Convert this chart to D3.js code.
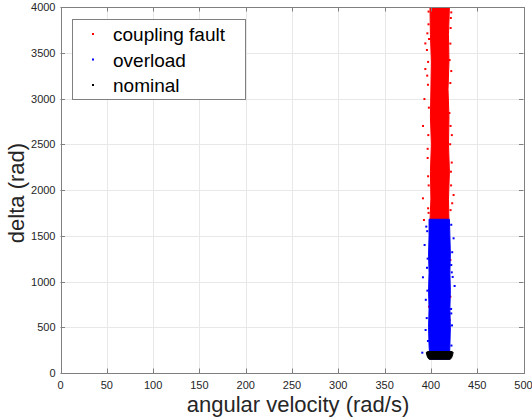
<!DOCTYPE html>
<html>
<head>
<meta charset="utf-8">
<script src="https://cdn.jsdelivr.net/npm/d3@7"></script>
<style>
  body { margin: 0; background: #fff; }
  text { font-family: "Liberation Sans", Arial, Helvetica, sans-serif; }
</style>
</head>
<body>
<svg id="chart"></svg>
<script>
// scatter of delta vs angular velocity, three operating classes
const width = 532;
const height = 419;
const margin = { top: 7, right: 8.5, bottom: 46, left: 60.5 };

const xTicks = [0, 50, 100, 150, 200, 250, 300, 350, 400, 450, 500];
const yTicks = [0, 500, 1000, 1500, 2000, 2500, 3000, 3500, 4000];
const classNames = ["coupling fault", "overload", "nominal"];
const classColors = ["#ff0000", "#0000ff", "#000000"];

// dense cores: delta level with left/right edge of the point cloud
const faultDelta = [1660, 1900, 2200, 2500, 2800, 3100, 3400, 3700, 4000];
const faultLeft = [399, 400, 399.5, 400.5, 399.5, 400, 400.5, 399.5, 399];
const faultRight = [419.5, 419, 420, 419, 419.5, 418.5, 419.5, 419, 420];

const overloadDelta = [150, 300, 500, 700, 900, 1100, 1300, 1500, 1680];
const overloadLeft = [399, 398, 397.5, 398, 397.5, 398, 397.5, 398, 398];
const overloadRight = [420, 420.5, 421, 420.5, 421, 420.5, 421, 420.5, 420];

const nominalDelta = [150, 170, 200, 225, 235];
const nominalLeft = [398, 396.5, 395.5, 395, 396.5];
const nominalRight = [421, 422.5, 423.5, 424, 423];

// stray points outside the cores
const faultStrayX = [397.4, 396.2, 394.0, 395.7, 394.0, 393.0, 391.5, 422.0, 421.3, 420.2, 421.0, 420.0,
  391.4, 392.5, 424.5, 423.0, 418.4, 421.0, 398.0, 421.0, 420.2, 418.4, 396.5, 397.0, 422.5,
  397.5, 398.0, 397.0, 396.8, 397.8, 397.2, 396.5, 397.6, 421.5, 421.0, 422.0, 421.2, 420.8, 421.6,
  397.0, 397.5, 421.8, 421.2, 396.0, 422.6];
const faultStrayY = [3811, 3712, 3602, 3530, 3322, 2994, 2700, 3941, 3770, 3420, 3169, 2841,
  1909, 1672, 1945, 1855, 1563, 1235, 725, 834, 579, 361, 2450, 2150, 2300,
  3950, 3650, 3400, 3150, 2900, 2600, 2350, 2050, 3880, 3600, 3300, 2700, 2500, 2200,
  1800, 1750, 2050, 1780, 3250, 2600];
const overloadStrayX = [424.5, 422.0, 425.6, 391.4, 393.2, 390.7, 422.0, 394.3, 395.0, 423.0, 394.5,
  396.0, 396.5, 395.8, 396.2, 395.5, 396.8, 422.0, 422.5, 421.8, 422.8, 422.2, 423.5];
const overloadStrayY = [1472, 1180, 951, 1046, 1399, 222, 651, 470, 1600, 1320, 800,
  1550, 1250, 1150, 900, 600, 350, 1620, 1100, 700, 520, 300, 1050];

const svg = d3.select("#chart")
  .attr("width", width)
  .attr("height", height);

const x = d3.scaleLinear().domain([0, 500]).range([margin.left, width - margin.right]);
const y = d3.scaleLinear().domain([0, 4000]).range([height - margin.bottom, margin.top]);

// grid
svg.append("g")
  .selectAll("line")
  .data(xTicks)
  .join("line")
  .attr("x1", d => Math.round(x(d)) + 0.5)
  .attr("x2", d => Math.round(x(d)) + 0.5)
  .attr("y1", y(0))
  .attr("y2", y(4000))
  .attr("stroke", "#e8e8e8");

svg.append("g")
  .selectAll("line")
  .data(yTicks)
  .join("line")
  .attr("y1", d => Math.round(y(d)) + 0.5)
  .attr("y2", d => Math.round(y(d)) + 0.5)
  .attr("x1", x(0))
  .attr("x2", x(500))
  .attr("stroke", "#e8e8e8");

svg.append("clipPath").attr("id", "plot")
  .append("rect")
  .attr("x", x(0)).attr("y", y(4000))
  .attr("width", x(500) - x(0)).attr("height", y(0) - y(4000));

const plot = svg.append("g").attr("clip-path", "url(#plot)");

function band(delta, left, right, color) {
  const rows = delta.map((d, i) => ({ d: d, l: left[i], r: right[i] }));
  const area = d3.area()
    .y(d => y(d.d))
    .x0(d => x(d.l))
    .x1(d => x(d.r));
  plot.append("path")
    .datum(rows)
    .attr("d", area)
    .attr("fill", color)
    .attr("stroke", color)
    .attr("stroke-width", 1);
}

function strays(xs, ys, color) {
  plot.append("g")
    .selectAll("rect")
    .data(xs.map((v, i) => [v, ys[i]]))
    .join("rect")
    .attr("x", d => x(d[0]) - 1)
    .attr("y", d => y(d[1]) - 1)
    .attr("width", 2)
    .attr("height", 2)
    .attr("fill", color);
}

band(faultDelta, faultLeft, faultRight, classColors[0]);
strays(faultStrayX, faultStrayY, classColors[0]);
band(overloadDelta, overloadLeft, overloadRight, classColors[1]);
strays(overloadStrayX, overloadStrayY, classColors[1]);
band(nominalDelta, nominalLeft, nominalRight, classColors[2]);

// box + inward ticks on all sides
const axisColor = "#808080";
svg.append("rect")
  .attr("x", Math.round(x(0)) + 0.5)
  .attr("y", Math.round(y(4000)) + 0.5)
  .attr("width", Math.round(x(500)) - Math.round(x(0)))
  .attr("height", Math.round(y(0)) - Math.round(y(4000)))
  .attr("fill", "none")
  .attr("stroke", axisColor);

const tickLen = 4.5;
const ticks = svg.append("g").attr("stroke", axisColor);
xTicks.forEach(t => {
  const px = Math.round(x(t)) + 0.5;
  ticks.append("line").attr("x1", px).attr("x2", px).attr("y1", y(0)).attr("y2", y(0) - tickLen);
  ticks.append("line").attr("x1", px).attr("x2", px).attr("y1", y(4000)).attr("y2", y(4000) + tickLen);
});
yTicks.forEach(t => {
  const py = Math.round(y(t)) + 0.5;
  ticks.append("line").attr("y1", py).attr("y2", py).attr("x1", x(0)).attr("x2", x(0) + tickLen);
  ticks.append("line").attr("y1", py).attr("y2", py).attr("x1", x(500)).attr("x2", x(500) - tickLen);
});

// tick labels
svg.append("g")
  .selectAll("text")
  .data(xTicks)
  .join("text")
  .attr("x", d => x(d))
  .attr("y", y(0) + 16)
  .attr("text-anchor", "middle")
  .attr("font-size", 11)
  .attr("fill", "#262626")
  .text(d => d);

svg.append("g")
  .selectAll("text")
  .data(yTicks)
  .join("text")
  .attr("x", x(0) - 5)
  .attr("y", d => y(d) + 4)
  .attr("text-anchor", "end")
  .attr("font-size", 11)
  .attr("fill", "#262626")
  .text(d => d);

// axis titles
svg.append("text")
  .attr("x", (x(0) + x(500)) / 2 + 6)
  .attr("y", 412)
  .attr("text-anchor", "middle")
  .attr("font-size", 22)
  .attr("fill", "#262626")
  .text("angular velocity (rad/s)");

svg.append("text")
  .attr("transform", `translate(24,${(y(0) + y(4000)) / 2 + 3}) rotate(-90)`)
  .attr("text-anchor", "middle")
  .attr("font-size", 22)
  .attr("fill", "#262626")
  .text("delta (rad)");

// legend
const legend = svg.append("g");
legend.append("rect")
  .attr("x", 72.5).attr("y", 19.5)
  .attr("width", 173).attr("height", 80)
  .attr("fill", "#fff")
  .attr("stroke", axisColor);

const rows = legend.selectAll("g")
  .data(classNames)
  .join("g")
  .attr("transform", (d, i) => `translate(0,${34 + i * 25.5})`);

rows.append("rect")
  .attr("x", 92).attr("y", -1)
  .attr("width", 2).attr("height", 2)
  .attr("fill", (d, i) => classColors[i]);

rows.append("text")
  .attr("x", 113)
  .attr("y", 7)
  .attr("font-size", 19)
  .attr("fill", "#000")
  .text(d => d);
</script>
</body>
</html>
